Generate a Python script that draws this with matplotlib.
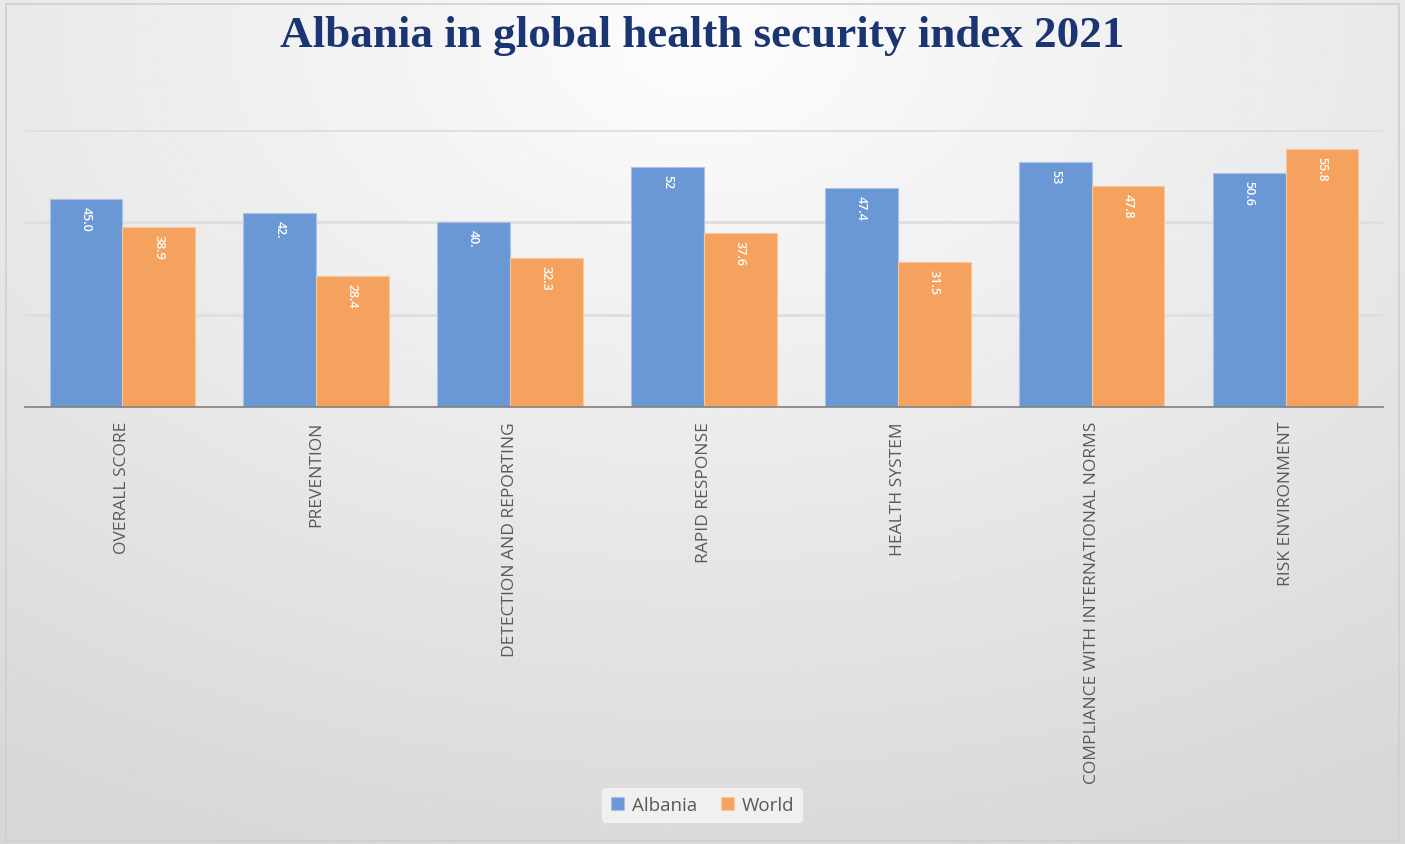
import numpy as np
import matplotlib.pyplot as plt
from matplotlib.patches import Rectangle

categories = ["OVERALL SCORE", "PREVENTION", "DETECTION AND REPORTING",
              "RAPID RESPONSE", "HEALTH SYSTEM",
              "COMPLIANCE WITH INTERNATIONAL NORMS", "RISK ENVIRONMENT"]
albania = [45.0, 42.0, 40.0, 52, 47.4, 53, 50.6]
world = [38.9, 28.4, 32.3, 37.6, 31.5, 47.8, 55.8]
albania_labels = ["45.0", "42.", "40.", "52", "47.4", "53", "50.6"]
world_labels = ["38.9", "28.4", "32.3", "37.6", "31.5", "47.8", "55.8"]

blue = "#6a98d4"
orange = "#f4a25e"
label_gray = "#595959"

fig = plt.figure(figsize=(14.05, 8.45), dpi=100)

# soft radial background, white near the top and grey towards the corners
bg = fig.add_axes([0, 0, 1, 1], zorder=-10)
yy, xx = np.mgrid[0:1:400j, 0:1:700j]
r = np.sqrt(((xx - 0.5) * 1.1) ** 2 + ((yy - 0.05) * 1.0) ** 2)
shade = 0.99 - 0.15 * np.clip(r / 1.05, 0, 1)
bg.imshow(shade, cmap="gray", vmin=0, vmax=1, aspect="auto",
          extent=[0, 1, 0, 1], origin="upper")
bg.add_patch(Rectangle((0.004, 0.003), 0.992, 0.991, fill=False,
                       edgecolor="#cfcfcf", linewidth=1.2))
bg.set_xlim(0, 1)
bg.set_ylim(0, 1)
bg.axis("off")

ax = fig.add_axes([0.018, 1 - 408 / 845, 0.966, (408 - 131) / 845])
ax.patch.set_alpha(0)

x = np.arange(len(categories))
w = 0.375
b1 = ax.bar(x - w / 2, albania, w, color=blue, edgecolor="#a9c2e6",
            linewidth=0.8, label="Albania", zorder=3)
b2 = ax.bar(x + w / 2, world, w, color=orange, edgecolor="#f8c79d",
            linewidth=0.8, label="World", zorder=3)

for bars, labels in ((b1, albania_labels), (b2, world_labels)):
    for bar, txt in zip(bars, labels):
        ax.annotate(txt, (bar.get_x() + bar.get_width() / 2, bar.get_height()),
                    xytext=(0, -5), textcoords="offset points",
                    rotation=-90, ha="center", va="top", color="white",
                    fontsize=9, fontweight="semibold", family="Open Sans",
                    zorder=4)

ax.set_xlim(-0.5, len(categories) - 0.5)
ax.set_ylim(0, 60)
ax.set_yticks([20, 40, 60])
ax.yaxis.grid(True, color="#dedede", linewidth=2)
ax.set_axisbelow(True)
ax.tick_params(axis="y", left=False, labelleft=False)
ax.tick_params(axis="x", length=0, pad=10)
ax.set_xticks(x)
ax.set_xticklabels(categories, rotation=90, ha="center", va="top",
                   fontsize=12.5, color=label_gray, family="Open Sans")
for side in ("top", "left", "right"):
    ax.spines[side].set_visible(False)
ax.spines["bottom"].set_color("#808080")
ax.spines["bottom"].set_linewidth(1.2)
ax.spines["bottom"].set_zorder(5)

fig.text(0.5, 0.957, "Albania in global health security index 2021",
         ha="center", va="center", fontsize=32.5, fontweight="bold",
         color="#1b3573", family="Liberation Serif")

leg = fig.legend(handles=[b1, b2], loc="center", bbox_to_anchor=(0.5, 0.046),
                 ncol=2, frameon=True, handlelength=0.7,
                 handleheight=0.7, handletextpad=0.4, columnspacing=1.3,
                 borderpad=0.45, borderaxespad=0,
                 prop={"family": "Open Sans", "size": 13.5})
leg.get_frame().set_facecolor("#f0f0f0")
leg.get_frame().set_edgecolor("none")
leg.get_frame().set_alpha(1)
for t in leg.get_texts():
    t.set_color(label_gray)

fig.savefig("out.png", dpi=100)
